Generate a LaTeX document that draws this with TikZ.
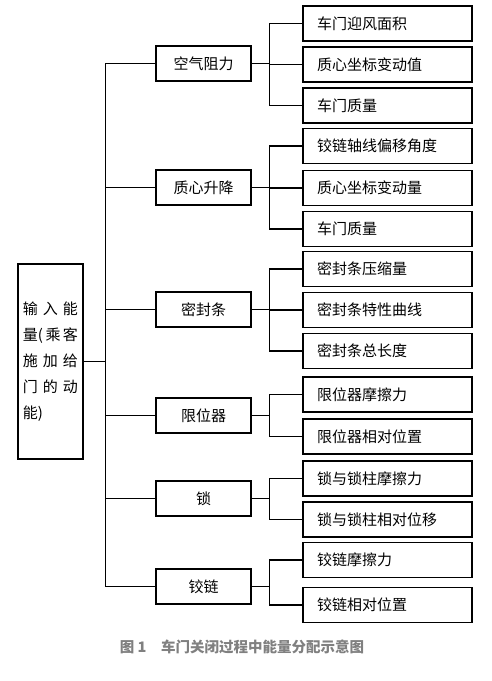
\documentclass[tikz,border=0pt]{standalone}
\usepackage{fontspec}
\setmainfont{Noto Sans CJK SC}
\usepackage{tikz}
\usetikzlibrary{positioning}

\begin{document}
\begin{tikzpicture}[x=1pt, y=-1pt, line width=1.1pt,
	font=\fontsize{15}{26}\selectfont,
	root/.style={rectangle, draw, minimum width=65pt, minimum height=195pt,
				inner sep=0pt, align=left},
	part/.style={rectangle, draw, minimum width=95pt, minimum height=35pt},
	leaf/.style={rectangle, draw, minimum height=35pt, text width=141pt,
				inner xsep=14pt, inner ysep=0pt, align=left},
]
\useasboundingbox (0,0) rectangle (492,681);
\node [root] (IN) at (50.5,361.5) {\makebox[55pt][s]{输\hfill 入\hfill 能}\\
	\makebox[55pt][s]{量(\hfill 乘\hfill 客}\\
	\makebox[55pt][s]{施\hfill 加\hfill 给}\\
	\makebox[55pt][s]{门\hfill 的\hfill 动}\\
	\makebox[55pt][l]{能)}};
%
\node [part] (AIR) at (203.5,63.5) {空气阻力};
\node [part] (CG)  at (203.5,187.5) {质心升降};
\node [part] (SEAL) at (203.5,309.5) {密封条};
\node [part] (STOP) at (203.5,415.5) {限位器};
\node [part] (LOCK) at (203.5,498.5) {锁};
\node [part] (HNG) at (203.5,586.5) {铰链};
%
\node [leaf] (AIR1) at (387.5,23.5) {车门迎风面积};
\node [leaf] (AIR2) at (387.5,64.5) {质心坐标变动值};
\node [leaf] (AIR3) at (387.5,105.5) {车门质量};
\node [leaf] (CG1) at (387.5,146) {铰链轴线偏移角度};
\node [leaf] (CG2) at (387.5,188) {质心坐标变动量};
\node [leaf] (CG3) at (387.5,229) {车门质量};
\node [leaf] (SEAL1) at (387.5,269) {密封条压缩量};
\node [leaf] (SEAL2) at (387.5,310) {密封条特性曲线};
\node [leaf] (SEAL3) at (387.5,351) {密封条总长度};
\node [leaf] (STOP1) at (387.5,394.5) {限位器摩擦力};
\node [leaf] (STOP2) at (387.5,436.5) {限位器相对位置};
\node [leaf] (LOCK1) at (387.5,478.5) {锁与锁柱摩擦力};
\node [leaf] (LOCK2) at (387.5,519.5) {锁与锁柱相对位移};
\node [leaf] (HNG1) at (387.5,560) {铰链摩擦力};
\node [leaf] (HNG2) at (387.5,605) {铰链相对位置};
%
\node [text=black!50, font=\fontsize{14.5}{16}\selectfont\bfseries] (CAP)
	at (242,647) {图 1\quad 车门关闭过程中能量分配示意图};
%
\foreach \p in {AIR,CG,SEAL,STOP,LOCK,HNG}
	\draw (IN.east) -- ++(22,0) |- (\p.west);
\foreach \p in {AIR1,AIR2,AIR3}
	\draw (AIR.east) -- ++(18,0) |- (\p.west);
\foreach \p in {CG1,CG2,CG3}
	\draw (CG.east) -- ++(18,0) |- (\p.west);
\foreach \p in {SEAL1,SEAL2,SEAL3}
	\draw (SEAL.east) -- ++(18,0) |- (\p.west);
\foreach \p in {STOP1,STOP2}
	\draw (STOP.east) -- ++(18,0) |- (\p.west);
\foreach \p in {LOCK1,LOCK2}
	\draw (LOCK.east) -- ++(18,0) |- (\p.west);
\foreach \p in {HNG1,HNG2}
	\draw (HNG.east) -- ++(18,0) |- (\p.west);
\end{tikzpicture}
\end{document}
